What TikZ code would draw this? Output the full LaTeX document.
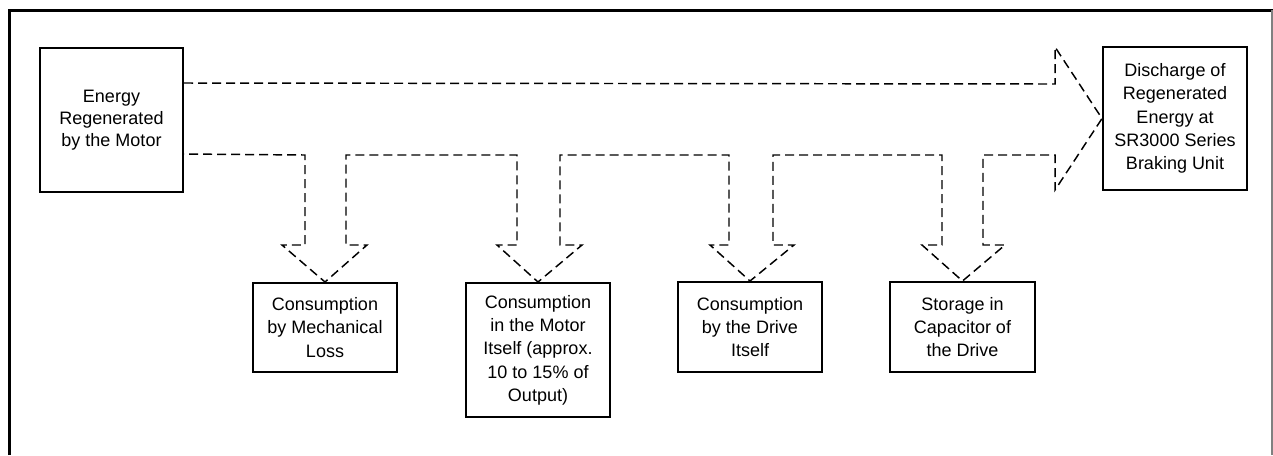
\documentclass[tikz,border=0pt]{standalone}
\usepackage{fontspec}
\setmainfont{Liberation Sans}
\usetikzlibrary{calc}
\begin{document}
\begin{tikzpicture}[x=0.75pt,y=-0.75pt,
  box/.style={draw=black,line width=1.5pt,fill=white,align=center,inner sep=2pt,
    font=\fontsize{13.5pt}{17.5pt}\selectfont,minimum width=108pt},
  flow/.style={draw=black,line width=1.1pt,dash pattern=on 6.75pt off 3.75pt,line join=miter},
  frame/.style={line width=2.25pt}]
\useasboundingbox (0,0) rectangle (1273,455);
% outer frame
\draw[frame] (9,455) -- (9,10) -- (1273,10);
\draw[line width=0.8pt,gray] (1272,10) -- (1272,455);
% boxes
\node[box,minimum width=107.25pt,minimum height=108pt,font=\fontsize{13.5pt}{16.5pt}\selectfont] (src) at (111.5,120) {Energy\\Regenerated\\by the Motor};
\node[box,minimum height=107.25pt] (dst) at (1175,118.5) {Discharge of\\Regenerated\\Energy at\\SR3000 Series\\Braking Unit};
\node[box,minimum height=66.75pt] (b1) at (325,327.5) {Consumption\\by Mechanical\\Loss};
\node[box,minimum height=100.5pt] (b2) at (538,350) {Consumption\\in the Motor\\Itself (approx.\\10 to 15\% of\\Output)};
\node[box,minimum height=67.5pt] (b3) at (750,327) {Consumption\\by the Drive\\Itself};
\node[box,minimum height=67.5pt,minimum width=108.75pt] (b4) at (962.5,327) {Storage in\\Capacitor of\\the Drive};
% big dashed arrow outline
\draw[flow] ($(src.north east)+(0,36)$) -- (1055,84) -- (1055,47) -- (dst.west) -- (1055,190) -- (1055,155)
  -- (983,155) -- (983,245) -- (1005,245) -- (b4.north) -- (922,245) -- (942,245) -- (942,155)
  -- (773,155) -- (773,245) -- (794,245) -- (b3.north) -- (710,245) -- (729,245) -- (729,155)
  -- (560,155) -- (560,245) -- (582,245) -- (b2.north) -- (497,245) -- (517,245) -- (517,155)
  -- (346,155) -- (346,245) -- (367,245) -- (b1.north) -- (282,245) -- (305,245) -- (305,155)
  -- ($(src.north east)+(0,107)$);
\end{tikzpicture}
\end{document}
